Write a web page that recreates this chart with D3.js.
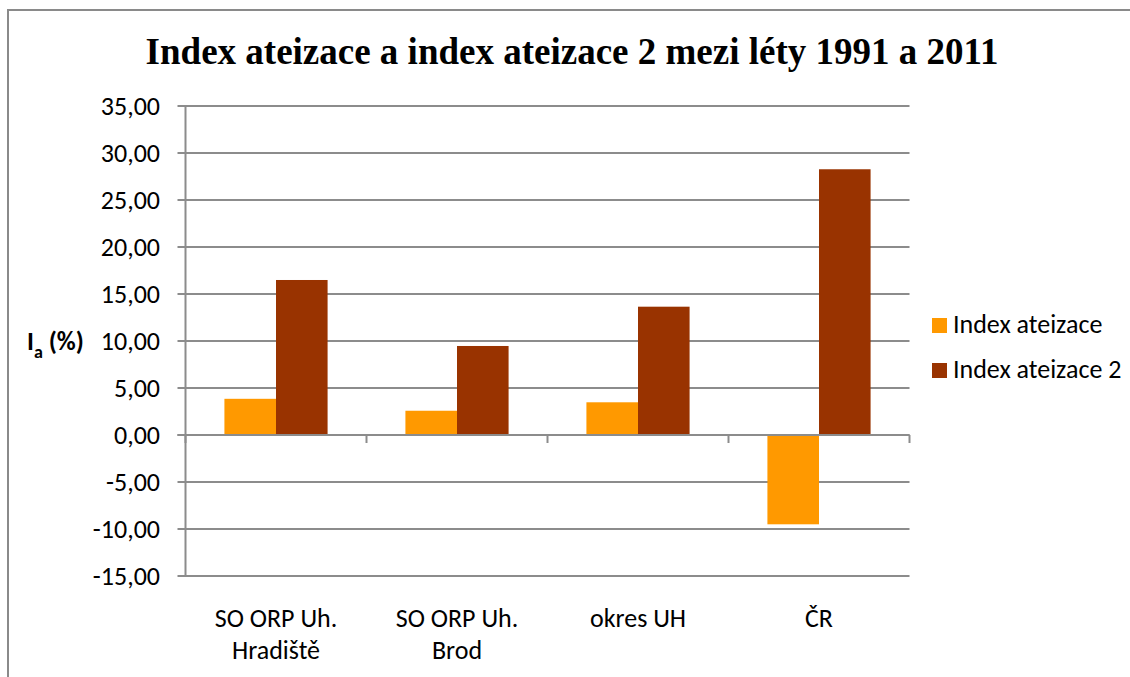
<!DOCTYPE html>
<html>
<head>
<meta charset="utf-8">
<script src="https://cdn.jsdelivr.net/npm/d3@7"></script>
<style>
  body { margin: 0; background: #fff; }
  svg text { font-family: Carlito, Calibri, Lato, sans-serif; }
</style>
</head>
<body>
<div id="chart"></div>
<script>
// data
const categories = [["SO ORP Uh.", "Hradiště"], ["SO ORP Uh.", "Brod"], ["okres UH"], ["ČR"]];
const seriesNames = ["Index ateizace", "Index ateizace 2"];
const indexAteizace = [3.85, 2.58, 3.48, -9.5];
const indexAteizace2 = [16.49, 9.47, 13.65, 28.27];
const yTicks = [-15, -10, -5, 0, 5, 10, 15, 20, 25, 30, 35];

const colors = ["#FF9900", "#993300"];
const gridColor = "#8c8c8c";

const width = 1130, height = 677;
const plot = { left: 185.5, right: 909.5, top: 106, bottom: 576 };

const svg = d3.select("#chart").append("svg")
  .attr("width", width)
  .attr("height", height);

// outer chart border (only left and top fall inside the picture)
svg.append("rect")
  .attr("x", 8).attr("y", 10)
  .attr("width", 1200).attr("height", 800)
  .attr("fill", "none")
  .attr("stroke", "#8a8a8a")
  .attr("stroke-width", 2);

// title
svg.append("text")
  .attr("x", 572).attr("y", 64)
  .attr("text-anchor", "middle")
  .style("font-family", "'Liberation Serif', 'Times New Roman', serif")
  .style("font-weight", "bold")
  .style("font-size", "37px")
  .text("Index ateizace a index ateizace 2 mezi léty 1991 a 2011");

const catKeys = categories.map(d => d.join(" "));
const x = d3.scaleBand()
  .domain(catKeys)
  .range([plot.left, plot.right])
  .paddingInner(0.43)
  .paddingOuter(0.215);

const xSub = d3.scaleBand()
  .domain(seriesNames)
  .range([0, x.bandwidth()]);

const y = d3.scaleLinear()
  .domain([-15, 35])
  .range([plot.bottom, plot.top]);

// gridlines + y ticks
svg.append("g")
  .selectAll("line")
  .data(yTicks)
  .join("line")
  .attr("x1", plot.left - 8).attr("x2", plot.right)
  .attr("y1", d => y(d)).attr("y2", d => y(d))
  .attr("stroke", gridColor)
  .attr("stroke-width", 2);

const fmt = d => d3.format(".2f")(d).replace(".", ",").replace("−", "-");
svg.append("g")
  .selectAll("text")
  .data(yTicks)
  .join("text")
  .attr("x", 160)
  .attr("y", d => y(d))
  .attr("dy", "0.35em")
  .attr("text-anchor", "end")
  .style("font-size", "26px")
  .attr("fill", "#000")
  .text(fmt);

// bars
const rows = catKeys.map((c, i) => ({ cat: c, values: [indexAteizace[i], indexAteizace2[i]] }));
const groups = svg.append("g")
  .selectAll("g")
  .data(rows)
  .join("g")
  .attr("transform", d => `translate(${x(d.cat)},0)`);

groups.selectAll("rect")
  .data(d => d.values.map((v, j) => ({ name: seriesNames[j], v: v, j: j })))
  .join("rect")
  .attr("x", d => xSub(d.name))
  .attr("width", xSub.bandwidth())
  .attr("y", d => y(Math.max(0, d.v)))
  .attr("height", d => Math.abs(y(d.v) - y(0)))
  .attr("fill", d => colors[d.j]);

// y axis line
svg.append("line")
  .attr("x1", plot.left).attr("x2", plot.left)
  .attr("y1", plot.top).attr("y2", plot.bottom)
  .attr("stroke", gridColor)
  .attr("stroke-width", 2);

// x axis at zero with category boundary ticks
svg.append("line")
  .attr("x1", plot.left - 8).attr("x2", plot.right)
  .attr("y1", y(0)).attr("y2", y(0))
  .attr("stroke", gridColor)
  .attr("stroke-width", 2);

const step = x.step();
const boundaries = d3.range(catKeys.length + 1).map(i => plot.left + i * step);
svg.append("g")
  .selectAll("line")
  .data(boundaries)
  .join("line")
  .attr("x1", d => d).attr("x2", d => d)
  .attr("y1", y(0)).attr("y2", y(0) + 8)
  .attr("stroke", gridColor)
  .attr("stroke-width", 2);

// category labels
const catLabels = svg.append("g")
  .selectAll("text")
  .data(categories)
  .join("text")
  .attr("x", (d, i) => x(catKeys[i]) + x.bandwidth() / 2)
  .attr("y", 627)
  .attr("text-anchor", "middle")
  .style("font-size", "26px");
catLabels.selectAll("tspan")
  .data(d => d)
  .join("tspan")
  .attr("x", function () { return d3.select(this.parentNode).attr("x"); })
  .attr("dy", (d, i) => i === 0 ? 0 : 32)
  .text(d => d);

// y axis title I_a (%)
const yt = svg.append("text")
  .attr("x", 27).attr("y", 350)
  .style("font-size", "26px")
  .style("font-weight", "bold");
yt.append("tspan").text("I");
yt.append("tspan").attr("dy", 8).style("font-size", "18px").text("a");
yt.append("tspan").attr("dy", -8).text(" (%)");

// legend
const legend = svg.append("g")
  .selectAll("g")
  .data(seriesNames)
  .join("g")
  .attr("transform", (d, i) => `translate(932,${318 + i * 45})`);
legend.append("rect")
  .attr("width", 15).attr("height", 15)
  .attr("fill", (d, i) => colors[i]);
legend.append("text")
  .attr("x", 21).attr("y", 15)
  .style("font-size", "26px")
  .text(d => d);
</script>
</body>
</html>
